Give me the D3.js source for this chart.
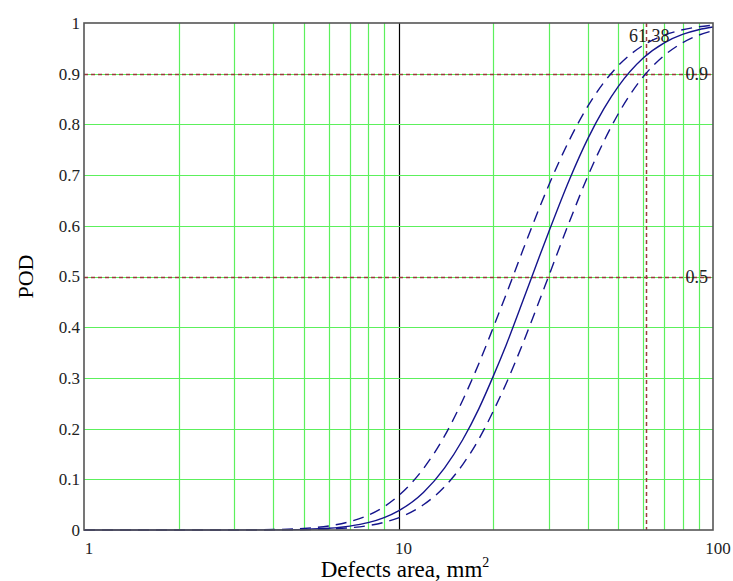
<!DOCTYPE html>
<html>
<head>
<meta charset="utf-8">
<script src="https://cdn.jsdelivr.net/npm/d3@7"></script>
<style>
  html, body { margin: 0; padding: 0; background: #fff; }
  svg { display: block; }
</style>
</head>
<body>
<svg id="chart" width="733" height="581"></svg>
<script>
// Defect sizes (mm²) at which the POD curves are sampled
const defectArea = [1, 2, 3, 4, 5, 6, 7, 8, 9, 10, 12, 14, 16, 18, 20, 22, 25, 28, 30, 35, 40, 45, 50, 60, 70, 80, 90, 100];

// POD estimate (solid line)
const podFit = [0, 0.000001, 0.00004, 0.0003, 0.0012, 0.0034, 0.0077, 0.0145, 0.0245, 0.0378, 0.074, 0.122, 0.178, 0.239, 0.303, 0.365, 0.456, 0.538, 0.587, 0.692, 0.772, 0.831, 0.875, 0.931, 0.961, 0.9775, 0.9867, 0.992];

// Upper confidence bound (left dashed line)
const podUpper = [0, 0.00001, 0.00013, 0.0009, 0.0031, 0.008, 0.0165, 0.029, 0.046, 0.0675, 0.121, 0.185, 0.256, 0.328, 0.399, 0.465, 0.556, 0.634, 0.679, 0.770, 0.836, 0.883, 0.916, 0.956, 0.976, 0.9867, 0.9924, 0.9956];

// Lower confidence bound (right dashed line)
const podLower = [0, 0, 0.00002, 0.00015, 0.0006, 0.0019, 0.0044, 0.0087, 0.0152, 0.0241, 0.0497, 0.0852, 0.129, 0.179, 0.234, 0.289, 0.372, 0.451, 0.5, 0.609, 0.698, 0.767, 0.821, 0.894, 0.936, 0.961, 0.976, 0.9848];

// Reference levels and the a90/95 size
const podLevels = [0.5, 0.9];
const a90_95 = 61.38;

// Axis ticks
const xTickLabels = [1, 10, 100];
const yTicks = [0, 0.1, 0.2, 0.3, 0.4, 0.5, 0.6, 0.7, 0.8, 0.9, 1];

const svg = d3.select("#chart");
const plotLeft = 84, plotRight = 713, plotTop = 23, plotBottom = 530;

const x = d3.scaleLog().domain([1, 100]).range([plotLeft, plotRight]);
const y = d3.scaleLinear().domain([0, 1]).range([plotBottom, plotTop]);

const serif = "'Liberation Serif', 'Times New Roman', serif";
const gridGreen = "#5cf05c";
const curveBlue = "#14148c";
const refRed = "#9c3b3b";

// Vertical grid: every log tick inside the range, decade line at 10 in black
const xGrid = x.ticks().filter(v => v > 1 && v < 100);
svg.append("g").selectAll("line")
  .data(xGrid)
  .join("line")
  .attr("x1", d => Math.round(x(d)) + 0.5)
  .attr("x2", d => Math.round(x(d)) + 0.5)
  .attr("y1", plotTop).attr("y2", plotBottom)
  .attr("stroke", d => d === 10 ? "#000" : gridGreen)
  .attr("stroke-width", 1.2);

// Horizontal grid
svg.append("g").selectAll("line")
  .data(yTicks.filter(v => v > 0 && v < 1))
  .join("line")
  .attr("x1", plotLeft).attr("x2", plotRight)
  .attr("y1", d => Math.round(y(d)) + 0.5)
  .attr("y2", d => Math.round(y(d)) + 0.5)
  .attr("stroke", gridGreen)
  .attr("stroke-width", 1.2);

// Dashed reference markers at POD 0.5 / 0.9 and at a90/95
svg.append("g").selectAll("line")
  .data(podLevels)
  .join("line")
  .attr("x1", plotLeft).attr("x2", plotRight)
  .attr("y1", d => Math.round(y(d)) + 0.5)
  .attr("y2", d => Math.round(y(d)) + 0.5)
  .attr("stroke", refRed)
  .attr("stroke-width", 1.3)
  .attr("stroke-dasharray", "4,3");

svg.append("line")
  .attr("x1", Math.round(x(a90_95)) + 0.5)
  .attr("x2", Math.round(x(a90_95)) + 0.5)
  .attr("y1", plotTop).attr("y2", plotBottom)
  .attr("stroke", refRed)
  .attr("stroke-width", 1.5)
  .attr("stroke-dasharray", "4,3");

// POD curves
const line = d3.line()
  .x((d, i) => x(defectArea[i]))
  .y(d => y(d))
  .curve(d3.curveMonotoneX);

const curves = [
  { values: podUpper, dash: "11,7" },
  { values: podLower, dash: "11,7" },
  { values: podFit, dash: null }
];

svg.append("g").selectAll("path")
  .data(curves)
  .join("path")
  .attr("d", d => line(d.values))
  .attr("fill", "none")
  .attr("stroke", curveBlue)
  .attr("stroke-width", 1.4)
  .attr("stroke-dasharray", d => d.dash);

// Frame
svg.append("rect")
  .attr("x", plotLeft).attr("y", plotTop)
  .attr("width", plotRight - plotLeft).attr("height", plotBottom - plotTop)
  .attr("fill", "none")
  .attr("stroke", "#555")
  .attr("stroke-width", 1.6);

// Tick labels
svg.append("g").selectAll("text")
  .data(yTicks)
  .join("text")
  .attr("x", plotLeft - 4)
  .attr("y", d => y(d) + 2)
  .attr("text-anchor", "end")
  .attr("dominant-baseline", "middle")
  .attr("font-family", serif)
  .attr("font-size", 17)
  .attr("fill", "#222")
  .text(d => d3.format("~g")(d));

svg.append("g").selectAll("text")
  .data(xTickLabels)
  .join("text")
  .attr("x", d => x(d) + 5)
  .attr("y", plotBottom + 24)
  .attr("text-anchor", "middle")
  .attr("font-family", serif)
  .attr("font-size", 17)
  .attr("fill", "#222")
  .text(d => d);

// Value annotations
svg.append("g").selectAll("text")
  .data(podLevels)
  .join("text")
  .attr("x", plotRight - 5)
  .attr("y", d => y(d) + 2)
  .attr("text-anchor", "end")
  .attr("dominant-baseline", "middle")
  .attr("font-family", serif)
  .attr("font-size", 18)
  .attr("fill", "#222")
  .text(d => d);

svg.append("text")
  .attr("x", x(a90_95) + 3)
  .attr("y", plotTop + 19)
  .attr("text-anchor", "middle")
  .attr("font-family", serif)
  .attr("font-size", 18)
  .attr("fill", "#222")
  .text(a90_95.toFixed(2));

// Axis titles
svg.append("text")
  .attr("transform", `translate(33, ${(plotTop + plotBottom) / 2}) rotate(-90)`)
  .attr("text-anchor", "middle")
  .attr("font-family", serif)
  .attr("font-size", 22)
  .attr("fill", "#000")
  .text("POD");

const xTitle = svg.append("text")
  .attr("x", 405)
  .attr("y", 577)
  .attr("text-anchor", "middle")
  .attr("font-family", serif)
  .attr("font-size", 23)
  .attr("fill", "#000");
xTitle.append("tspan").text("Defects area, mm");
xTitle.append("tspan").attr("font-size", 14).attr("dy", -10).text("2");
</script>
</body>
</html>
